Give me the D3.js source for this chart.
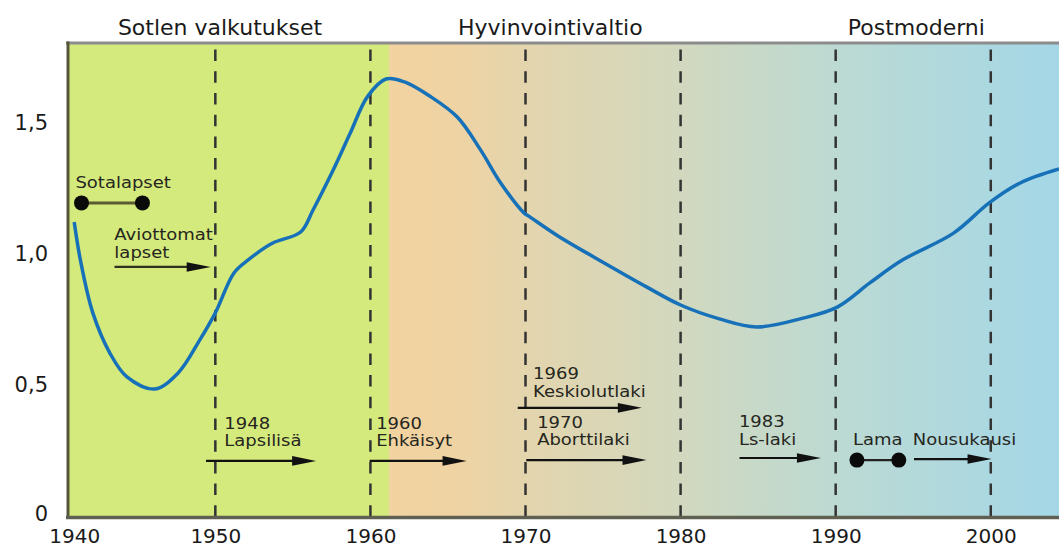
<!DOCTYPE html>
<html><head><meta charset="utf-8">
<script src="https://cdn.jsdelivr.net/npm/d3@7"></script>
<style>
body{margin:0;background:#fff;}
svg{display:block;font-family:"DejaVu Sans",sans-serif;}
</style>
</head><body>
<svg id="chart" width="1059" height="551"></svg>
<script>
// ---- data ----
const years  = [1940.9,1941.3,1942.1,1943.2,1944.3,1946.1,1947.6,1949.0,1950.0,1951.2,1952.1,1953.7,1955.5,1956.3,1957.6,1958.7,1959.8,1961.0,1962.2,1963.9,1965.6,1967.1,1968.4,1969.9,1970.3,1972.2,1974.4,1977.8,1980.0,1982.5,1984.9,1987.9,1990.1,1992.2,1994.3,1997.6,1999.9,2001.9,2004.4];
const values = [1.12,0.975,0.774,0.621,0.53,0.484,0.545,0.671,0.774,0.926,0.975,1.04,1.082,1.166,1.318,1.459,1.597,1.665,1.654,1.597,1.52,1.395,1.269,1.155,1.139,1.063,0.987,0.873,0.804,0.751,0.72,0.754,0.796,0.888,0.975,1.078,1.193,1.269,1.322];

const xTickValues = [1940,1950,1960,1970,1980,1990,2000];
const yTickValues = [0,0.5,1.0,1.5];
const decadeLines = [1950,1960,1970,1980,1990,2000];

const periodLabels  = ["Sotlen valkutukset","Hyvinvointivaltio","Postmoderni"];
const periodCenters = [1950.3,1971.6,1995.2];
const eraBoundary = 1961.2;

// arrows: start year, end year, value
const arrowStart = [1943.5,1949.4,1959.95,1969.5,1970.05,1983.8,1995.05];
const arrowEnd   = [1949.7,1956.5,1966.2,1977.5,1977.8,1989.05,2000.05];
const arrowValue = [0.949,0.21,0.21,0.412,0.213,0.221,0.217];

// dumbbells: start year, end year, value
const dumbStart = [1941.37,1991.37];
const dumbEnd   = [1945.3,1994.07];
const dumbValue = [1.193,0.213];

// annotation texts: lines, year, value of first baseline
const noteLines = [["Sotalapset"],["Aviottomat","lapset"],["1948","Lapsilisä"],["1960","Ehkäisyt"],["1969","Keskiolutlaki"],["1970","Aborttilaki"],["1983","Ls-laki"],["Lama"],["Nousukausi"]];
const noteYear  = [1940.98,1943.49,1950.58,1960.37,1970.49,1970.75,1983.76,1991.11,1994.97];
const noteValue = [1.25,1.052,0.332,0.332,0.522,0.336,0.339,0.271,0.271];

// ---- drawing ----
const W = 1059, H = 551;
const svg = d3.select("#chart");
const x = d3.scaleLinear().domain([1940.5, 2004.4]).range([68, W]);
const y = d3.scaleLinear().domain([0, 1.8]).range([516, 43.6]);
const plotTop = y(1.8), plotBottom = y(0);

const defs = svg.append("defs");
const grad = defs.append("linearGradient").attr("id","bg").attr("gradientUnits","userSpaceOnUse")
  .attr("x1", x(eraBoundary)).attr("x2", W).attr("y1",0).attr("y2",0);
[[0,"#f2d3a0"],[0.1,"#efd3a3"],[0.21,"#e3d5ae"],[0.43,"#d2d8be"],[0.67,"#bcdad3"],[1,"#a4d7e7"]]
  .forEach(s => grad.append("stop").attr("offset", s[0]).attr("stop-color", s[1]));

svg.append("rect").attr("x", x(1940.5)).attr("y", plotTop).attr("width", x(eraBoundary)-x(1940.5)).attr("height", plotBottom-plotTop).attr("fill","#d5ea7c");
svg.append("rect").attr("x", x(eraBoundary)).attr("y", plotTop).attr("width", W-x(eraBoundary)).attr("height", plotBottom-plotTop).attr("fill","url(#bg)");

// dashed decade lines
svg.append("g").selectAll("line").data(decadeLines).join("line")
  .attr("x1", d=>x(d)).attr("x2", d=>x(d)).attr("y1", plotTop+6).attr("y2", plotBottom)
  .attr("stroke","#333").attr("stroke-width",2.5).attr("stroke-dasharray","11.5,10.2");

// borders
svg.append("line").attr("x1",66).attr("x2",W).attr("y1",plotTop-0.5).attr("y2",plotTop-0.5).attr("stroke","#8c8c8c").attr("stroke-width",3);
svg.append("line").attr("x1",68).attr("x2",68).attr("y1",plotTop-2).attr("y2",plotBottom+3).attr("stroke","#55563a").attr("stroke-width",3);
svg.append("line").attr("x1",66).attr("x2",W).attr("y1",plotBottom+1.5).attr("y2",plotBottom+1.5).attr("stroke","#5f5f52").attr("stroke-width",3.5);

// curve
const pts = years.map((d,i)=>[d, values[i]]);
svg.append("path").datum(pts)
  .attr("d", d3.line().x(d=>x(d[0])).y(d=>y(d[1])).curve(d3.curveCatmullRom.alpha(0.5)))
  .attr("fill","none").attr("stroke","#1671b8").attr("stroke-width",3.5).attr("stroke-linejoin","round");

// axes
const xAxis = svg.append("g").attr("transform",`translate(0,${plotBottom})`)
  .call(d3.axisBottom(x).tickValues(xTickValues).tickSize(0).tickPadding(13).tickFormat(d3.format("d")));
xAxis.select(".domain").remove();
xAxis.selectAll("text").attr("font-size",20).attr("fill","#1a1a1a").attr("font-family","DejaVu Sans")
  .attr("dx", d => d === xTickValues[0] ? 14 : 0);

const yAxis = svg.append("g").attr("transform",`translate(68,0)`)
  .call(d3.axisLeft(y).tickValues(yTickValues).tickSize(0).tickPadding(20)
    .tickFormat(d => d===0 ? "0" : d3.format(".1f")(d).replace(".",",")));
yAxis.select(".domain").remove();
yAxis.selectAll("text").attr("font-size",21).attr("fill","#1a1a1a").attr("font-family","DejaVu Sans")
  .attr("dy", d => d === 0 ? "0.2em" : "0.32em");

// period titles
svg.append("g").selectAll("text").data(periodLabels).join("text")
  .attr("x",(d,i)=>x(periodCenters[i])).attr("y",35).attr("text-anchor","middle")
  .attr("font-size",22).attr("fill","#1a1a1a").text(d=>d);

// arrows
const ag = svg.append("g");
arrowStart.forEach((s,i)=>{
  const x1 = x(s), x2 = x(arrowEnd[i]), yy = y(arrowValue[i]);
  ag.append("line").attr("x1",x1).attr("x2",x2-18).attr("y1",yy).attr("y2",yy)
    .attr("stroke", i===0 ? "#2f2f22" : "#111").attr("stroke-width", 2.2);
  ag.append("path").attr("d",`M${x2},${yy} L${x2-24},${yy-4.8} L${x2-24},${yy+4.8} Z`).attr("fill","#111");
});

// dumbbells
const dg = svg.append("g");
dumbStart.forEach((s,i)=>{
  const x1 = x(s), x2 = x(dumbEnd[i]), yy = y(dumbValue[i]);
  dg.append("line").attr("x1",x1).attr("x2",x2).attr("y1",yy).attr("y2",yy)
    .attr("stroke", i===0 ? "#5b5b33" : "#222").attr("stroke-width", i===0 ? 3 : 2.2);
  [x1,x2].forEach(cx => dg.append("circle").attr("cx",cx).attr("cy",yy).attr("r",7.5).attr("fill","#0a0a0a"));
});

// notes (text in the source is horizontally stretched)
const ng = svg.append("g");
noteLines.forEach((lines,i)=>{
  lines.forEach((l,j)=> ng.append("text")
    .attr("transform", `translate(${x(noteYear[i])},${y(noteValue[i]) + j*17.6}) scale(1.2,1)`)
    .attr("font-size",15).attr("fill","#262620").text(l));
});
</script>
</body></html>
